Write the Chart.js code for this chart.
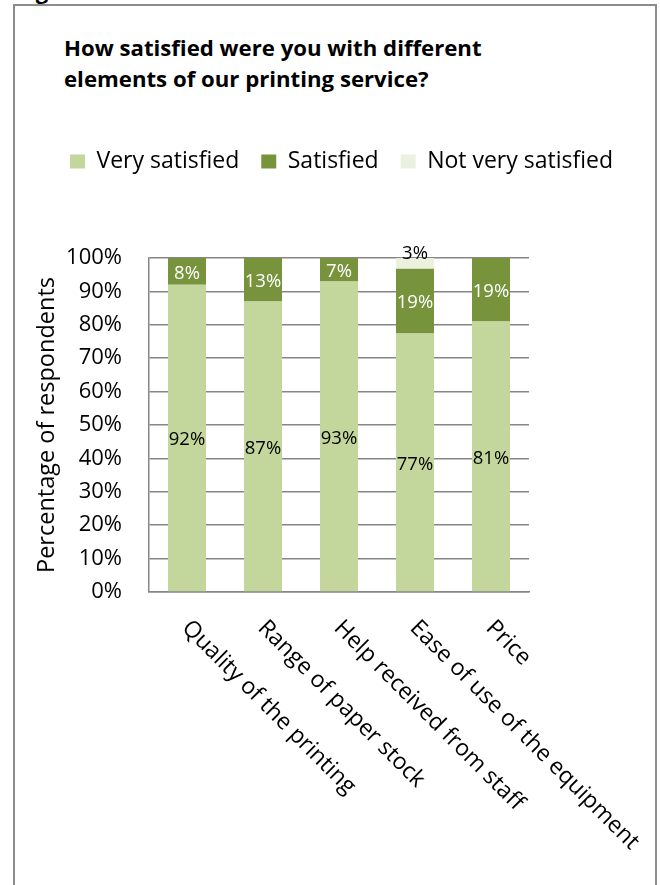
<!DOCTYPE html>
<html lang="en">

<head>
  <meta charset="UTF-8">
  <title>Printing service satisfaction</title>
  <script src="https://cdn.jsdelivr.net/npm/chart.js"></script>
  <style>
    body { margin: 0; background: #fff; font-family: 'Open Sans', sans-serif; }
    .page { position: relative; width: 660px; height: 885px; overflow: hidden; }
    /* tail of the caption line that sits above the frame */
    .cutoff { position: absolute; left: 17px; top: -21px; font-weight: bold; font-size: 22px; line-height: 22px; }
    .frame { position: absolute; left: 13px; top: 4px; width: 644px; height: 1000px; border: 2px solid #8c8c8c; box-sizing: border-box; }
    .title { position: absolute; left: 64px; top: 32px; font-weight: bold; font-size: 22.2px; line-height: 31px; color: #000; }
    canvas { position: absolute; left: 0; top: 0; }
  </style>
</head>

<body>
  <div class="page">
    <div class="cutoff">Figure</div>
    <div class="frame"></div>
    <div class="title">How satisfied were you with different<br>elements of our printing service?</div>
    <canvas id="satisfactionChart" width="660" height="885"></canvas>
  </div>

<script>
  const categories = ['Quality of the printing', 'Range of paper stock', 'Help received from staff', 'Ease of use of the equipment', 'Price'];
  const verySatisfied = [92, 87, 93, 77.4, 81];
  const satisfied = [8, 13, 7, 19.4, 19];
  const notVerySatisfied = [0, 0, 0, 3.2, 0];
  const seriesNames = ['Very satisfied', 'Satisfied', 'Not very satisfied'];
  const seriesColors = ['#c3d69b', '#77933c', '#ebf1de'];
  const valueLabelColors = ['#000', '#fff', '#000'];
  const yTickStep = 10;
  const yAxisTitle = 'Percentage of respondents';

  Chart.defaults.font.family = "'Open Sans', sans-serif";
  Chart.defaults.color = '#000';

  // extra room between the legend and the plot
  const legendGap = {
    id: 'legendGap',
    beforeInit(chart) {
      const fit = chart.legend.fit;
      chart.legend.fit = function () {
        fit.call(this);
        this.height += 75;
      };
    }
  };

  // percentage written in each bar segment
  const valueLabels = {
    id: 'valueLabels',
    afterDatasetsDraw(chart) {
      const ctx = chart.ctx;
      ctx.save();
      ctx.font = "18.5px 'Open Sans'";
      ctx.textAlign = 'center';
      ctx.textBaseline = 'middle';
      chart.data.datasets.forEach((ds, d) => {
        chart.getDatasetMeta(d).data.forEach((bar, i) => {
          const v = ds.data[i];
          if (!v) return;
          ctx.fillStyle = valueLabelColors[d];
          let y = (bar.y + bar.base) / 2 + 2;
          if (d === 2) y = bar.y - 4; // thin top segment: label sits above it
          ctx.fillText(Math.round(v) + '%', bar.x, y);
        });
      });
      ctx.restore();
    }
  };

  // category names slanted down to the right, starting under each bar
  const categoryLabels = {
    id: 'categoryLabels',
    afterDraw(chart) {
      const xScale = chart.scales.x;
      const ctx = chart.ctx;
      ctx.save();
      ctx.font = "23px 'Open Sans'";
      ctx.fillStyle = '#000';
      ctx.textAlign = 'left';
      ctx.textBaseline = 'alphabetic';
      categories.forEach((name, i) => {
        ctx.save();
        ctx.translate(xScale.getPixelForTick(i) - 6, xScale.top + 37);
        ctx.rotate(Math.PI / 4);
        ctx.fillText(name, 0, 0);
        ctx.restore();
      });
      ctx.restore();
    }
  };

  const allSeries = [verySatisfied, satisfied, notVerySatisfied];

  new Chart(document.getElementById('satisfactionChart'), {
    type: 'bar',
    data: {
      labels: categories,
      datasets: allSeries.map((values, k) => ({
        label: seriesNames[k],
        data: values,
        backgroundColor: seriesColors[k],
        borderWidth: 0,
        barPercentage: 0.5,
        categoryPercentage: 1,
        yAxisID: 'y'
      }))
    },
    options: {
      responsive: false,
      animation: false,
      events: [],
      layout: { padding: { top: 128, left: 27, right: 4, bottom: 0 } },
      plugins: {
        tooltip: { enabled: false },
        legend: {
          position: 'top',
          labels: { boxWidth: 15, boxHeight: 14, padding: 22, font: { size: 23 }, color: '#000' }
        }
      },
      scales: {
        y: {
          stacked: true,
          min: 0,
          max: 100,
          ticks: {
            stepSize: yTickStep,
            padding: 27,
            font: { size: 22 },
            callback: v => v + '%'
          },
          grid: { color: '#868686', lineWidth: 1.5, drawTicks: false },
          border: { color: '#868686', width: 1.5 },
          title: { display: true, text: yAxisTitle, font: { size: 23.5 }, padding: { top: 6, bottom: 4 } },
          afterFit(s) { s.width = 122; }
        },
        y2: {
          position: 'right',
          grid: { display: false },
          border: { display: false },
          ticks: { display: false },
          afterFit(s) { s.width = 127; }
        },
        x: {
          stacked: true,
          grid: { display: false },
          border: { color: '#868686', width: 1.5 },
          ticks: { display: false },
          afterFit(s) { s.height = 293; }
        }
      }
    },
    plugins: [legendGap, valueLabels, categoryLabels]
  });
</script>
</body>

</html>
